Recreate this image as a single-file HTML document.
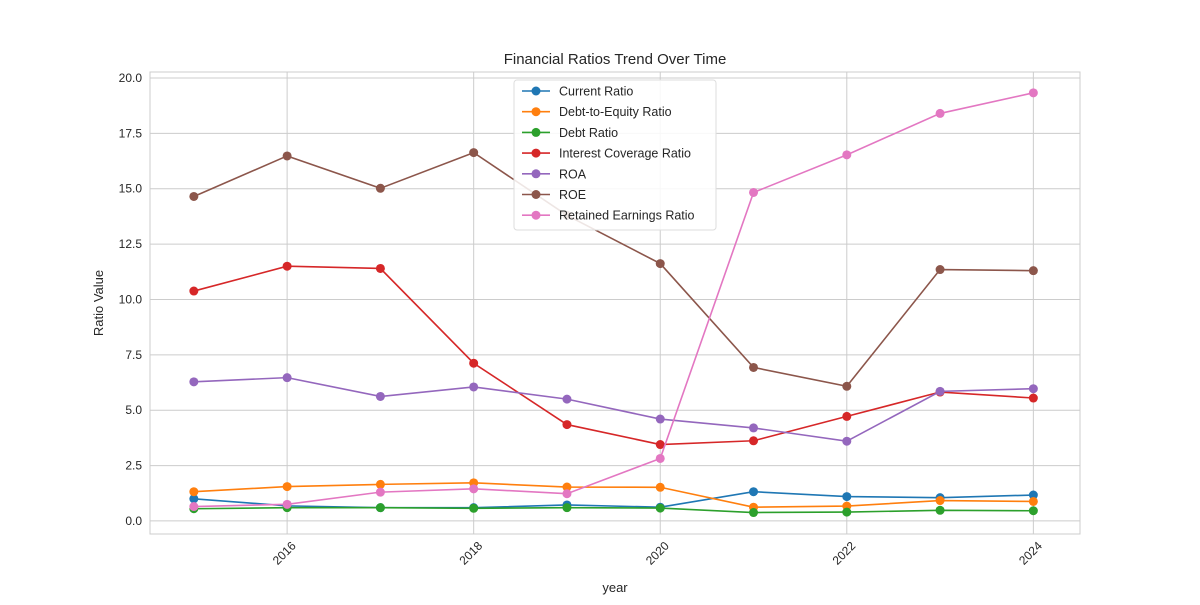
<!DOCTYPE html>
<html><head><meta charset="utf-8"><style>
body{margin:0;background:#fff;font-family:"Liberation Sans","DejaVu Sans",sans-serif}
</style></head><body>
<svg id="chart" width="1200" height="600" xmlns="http://www.w3.org/2000/svg"></svg>
<script>
const years=[2015,2016,2017,2018,2019,2020,2021,2022,2023,2024];
const currentRatio=[1.0,0.68,0.6,0.6,0.72,0.62,1.32,1.1,1.05,1.17];
const debtToEquity=[1.32,1.55,1.65,1.72,1.53,1.52,0.62,0.67,0.92,0.88];
const debtRatio=[0.55,0.6,0.6,0.57,0.6,0.58,0.38,0.4,0.48,0.46];
const interestCoverage=[10.38,11.5,11.4,7.12,4.35,3.45,3.62,4.72,5.82,5.55];
const roa=[6.28,6.47,5.62,6.05,5.5,4.6,4.2,3.6,5.85,5.97];
const roe=[14.65,16.48,15.02,16.63,13.8,11.62,6.93,6.08,11.35,11.3];
const retainedEarnings=[0.65,0.75,1.3,1.45,1.23,2.82,14.83,16.53,18.4,19.33];
const yTicks=[0,2.5,5,7.5,10,12.5,15,17.5,20];
const xTicks=[2016,2018,2020,2022,2024];
const seriesNames=["Current Ratio","Debt-to-Equity Ratio","Debt Ratio","Interest Coverage Ratio","ROA","ROE","Retained Earnings Ratio"];
const seriesData=[currentRatio,debtToEquity,debtRatio,interestCoverage,roa,roe,retainedEarnings];
const colors=["#1f77b4","#ff7f0e","#2ca02c","#d62728","#9467bd","#8c564b","#e377c2"];

const svg=document.getElementById('chart');
const NS="http://www.w3.org/2000/svg";
const L=150,R=1080,T=72,B=534;
const xMin=2014.53,xMax=2024.5,yMin=-0.59,yMax=20.27;
const xs=v=>L+(v-xMin)/(xMax-xMin)*(R-L);
const ys=v=>B-(v-yMin)/(yMax-yMin)*(B-T);
function mk(tag,attrs,parent){const e=document.createElementNS(NS,tag);for(const k in attrs)e.setAttribute(k,attrs[k]);(parent||svg).appendChild(e);return e;}

const grid=mk('g',{});


yTicks.forEach(t=>{
  mk('line',{x1:L,x2:R,y1:ys(t),y2:ys(t),stroke:'#cccccc','stroke-width':1},grid);
  const tx=mk('text',{x:L-8,y:ys(t)+4,'text-anchor':'end','font-size':12,fill:'#262626'});
  tx.textContent=t.toFixed(1);
  
  
});
xTicks.forEach(t=>{
  mk('line',{x1:xs(t),x2:xs(t),y1:T,y2:B,stroke:'#cccccc','stroke-width':1},grid);
  const x=xs(t),y=B+22;
  const tx=mk('text',{x:x,y:y,'text-anchor':'middle','font-size':12,fill:'#262626',transform:`rotate(-45 ${x} ${y})`});
  tx.textContent=t;
  
  
});
const frame=mk('rect',{x:L,y:T,width:R-L,height:B-T,fill:'none',stroke:'#cccccc','stroke-width':1});



seriesData.forEach((d,i)=>{
  const g=mk('g',{});
  
  
  mk('polyline',{points:d.map((v,j)=>xs(years[j])+','+ys(v)).join(' '),fill:'none',stroke:colors[i],'stroke-width':1.6},g);
  d.forEach((v,j)=>{
    const c=mk('circle',{cx:xs(years[j]),cy:ys(v),r:4.5,fill:colors[i]},g);
    
    
  });
});

const title=mk('text',{x:615,y:64,'text-anchor':'middle','font-size':15,fill:'#262626'});
title.textContent='Financial Ratios Trend Over Time';


const yl=mk('text',{x:103,y:303,'text-anchor':'middle','font-size':13,fill:'#262626',transform:'rotate(-90 103 303)'});
yl.textContent='Ratio Value';


const xl=mk('text',{x:615,y:592,'text-anchor':'middle','font-size':13,fill:'#262626'});
xl.textContent='year';



const lg=mk('g',{});


mk('rect',{x:514,y:80,width:202,height:150,rx:3,fill:'#ffffff','fill-opacity':0.85,stroke:'#dddddd'},lg);
seriesNames.forEach((n,i)=>{
  const y=91+i*20.7;
  const e=mk('g',{},lg);
  
  
  mk('line',{x1:522,x2:550,y1:y,y2:y,stroke:colors[i],'stroke-width':1.6},e);
  mk('circle',{cx:536,cy:y,r:4.5,fill:colors[i]},e);
  const t=mk('text',{x:559,y:y+4.5,'font-size':12.5,fill:'#262626'},e);
  t.textContent=n;
});
</script>
</body></html>
